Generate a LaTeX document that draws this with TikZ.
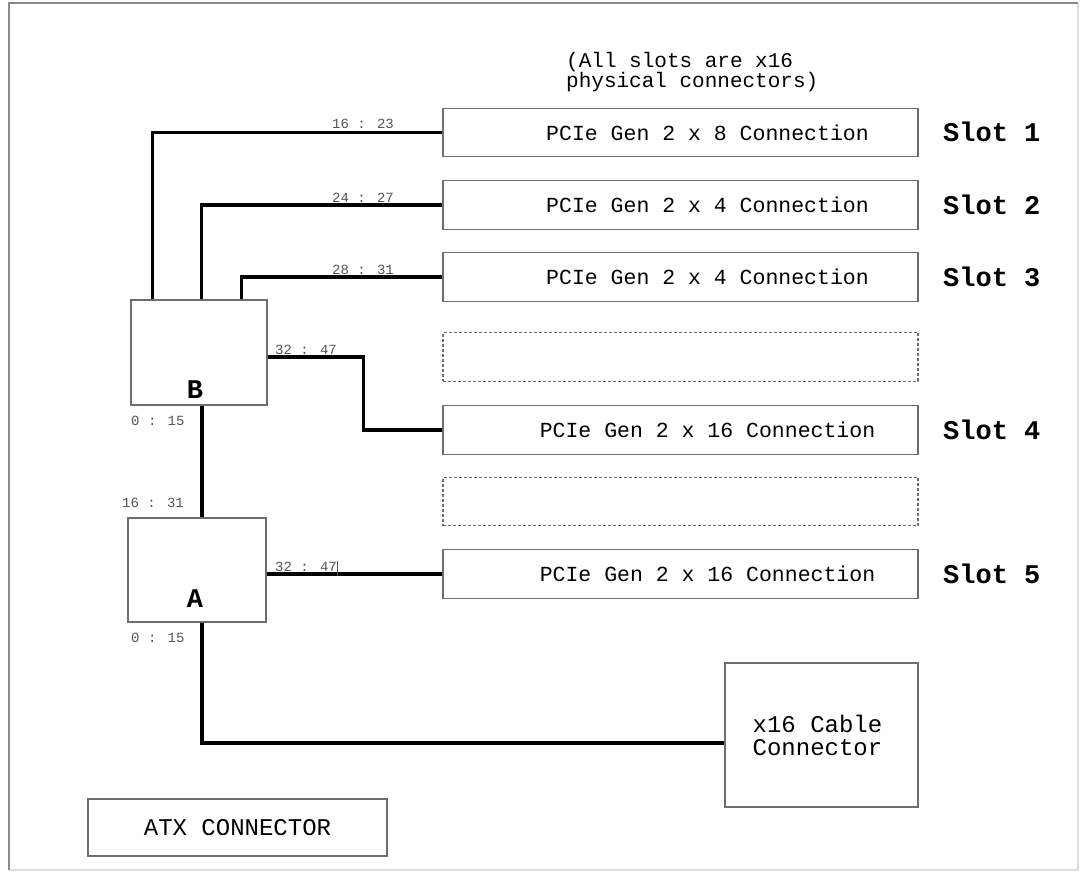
\documentclass[tikz,border=0pt]{standalone}
\usepackage{fontspec}
\newfontfamily\cour{Liberation Mono}
\definecolor{boxgray}{HTML}{6E6E6E}
\definecolor{lblgray}{HTML}{555555}
\definecolor{framedark}{HTML}{8A8A8A}
\definecolor{framelight}{HTML}{DDDDDD}
\begin{document}
\begin{tikzpicture}[x=1pt,y=-1pt,
  box/.style={draw=boxgray, line width=1.3pt, inner sep=0pt},
  slotbox/.style={box, minimum width=475pt, minimum height=48.5pt,
    font=\cour\fontsize{21.5}{24}\selectfont},
  ghostbox/.style={draw=boxgray, line width=1.1pt, dash pattern=on 3pt off 2pt,
    minimum width=475pt, minimum height=48.5pt, inner sep=0pt},
  slotlbl/.style={anchor=west, inner sep=0pt, font=\cour\bfseries\fontsize{27}{30}\selectfont},
  bus/.style={anchor=base west, inner sep=0pt, text=lblgray, font=\cour\fontsize{14}{16}\selectfont},
  chiplbl/.style={anchor=base, inner sep=0pt, font=\cour\bfseries\fontsize{27}{28}\selectfont},
  wire/.style={draw=black, line width=3.2pt}]
\useasboundingbox (0,0) rectangle (1080,871);
% frame
\draw[framelight, line width=1.2pt] (1078,3) -- (1078,870) -- (9,870);
\draw[framedark, line width=1.5pt] (9,870) -- (9,3) -- (1078,3);

% note
\node[anchor=north west, inner sep=0pt, align=left,
  font=\cour\fontsize{21}{19}\selectfont] (note) at (566,52)
  {(All slots are x16\\physical connectors)};

% slots
\node[slotbox] (s1) at (680.5,132.5) {\hspace*{54pt}PCIe Gen 2 x 8 Connection};
\node[slotbox] (s2) at (680.5,205) {\hspace*{54pt}PCIe Gen 2 x 4 Connection};
\node[slotbox] (s3) at (680.5,277) {\hspace*{54pt}PCIe Gen 2 x 4 Connection};
\node[ghostbox] (g1) at (680.5,357) {};
\node[slotbox] (s4) at (680.5,430) {\hspace*{54pt}PCIe Gen 2 x 16 Connection};
\node[ghostbox] (g2) at (680.5,501.5) {};
\node[slotbox] (s5) at (680.5,574) {\hspace*{54pt}PCIe Gen 2 x 16 Connection};

\node[slotlbl] (l1) at (943,132) {Slot 1};
\node[slotlbl] (l2) at (943,205) {Slot 2};
\node[slotlbl] (l3) at (943,277) {Slot 3};
\node[slotlbl] (l4) at (943,430) {Slot 4};
\node[slotlbl] (l5) at (943,574) {Slot 5};

% switches
\node[box, minimum width=136pt, minimum height=105pt,
  label={[chiplbl, xshift=-4pt, yshift=7pt]south:B}] (B) at (199,352.5) {};
\node[box, minimum width=138pt, minimum height=104pt,
  label={[chiplbl, xshift=-2pt, yshift=15pt]south:A}] (A) at (197,570) {};

% cable connector
\node[box, minimum width=193pt, minimum height=144pt, align=left,
  font=\cour\fontsize{24}{23}\selectfont] (cable) at (821.5,735)
  {x16 Cable\hspace*{8pt}\\Connector\hspace*{8pt}};

% ATX
\node[box, minimum width=299pt, minimum height=57pt,
  font=\cour\fontsize{24}{26}\selectfont] (atx) at (237.5,827.5) {ATX CONNECTOR};

% wires
\draw[wire] ([xshift=22pt]B.north west) |- (s1.west);
\draw[wire] ([xshift=71pt]B.north west) |- (s2.west);
\draw[wire] ([xshift=111pt]B.north west) |- (s3.west);
\draw[wire] ([yshift=-4.5pt]B.east) -- ++(96,0) |- (s4.west);
\draw[wire] ([xshift=3pt]B.south) -- ([xshift=3pt]B.south |- A.north);
\draw[wire] (A.east |- s5.west) -- (s5.west);
\draw[wire] ([xshift=5pt]A.south) |- ([yshift=-8pt]cable.west);

% bus labels
\node[bus] (b1) at (332,128) {16 : 23};
\node[bus] (b2) at (332,202) {24 : 27};
\node[bus] (b3) at (332,274) {28 : 31};
\node[bus] (b4) at (275,354) {32 : 47};
\node[bus] (b5) at (131,425) {0 : 15};
\node[bus] (b6) at (122,507) {16 : 31};
\node[bus] (b7) at (275,571) {32 : 47};
\node[bus] (b8) at (131,642) {0 : 15};
\coordinate (tickTop) at (337,561);
\coordinate (tickBot) at (337,576);
\draw[lblgray, line width=0.8pt] (tickTop) -- (tickBot);
\end{tikzpicture}
\end{document}
